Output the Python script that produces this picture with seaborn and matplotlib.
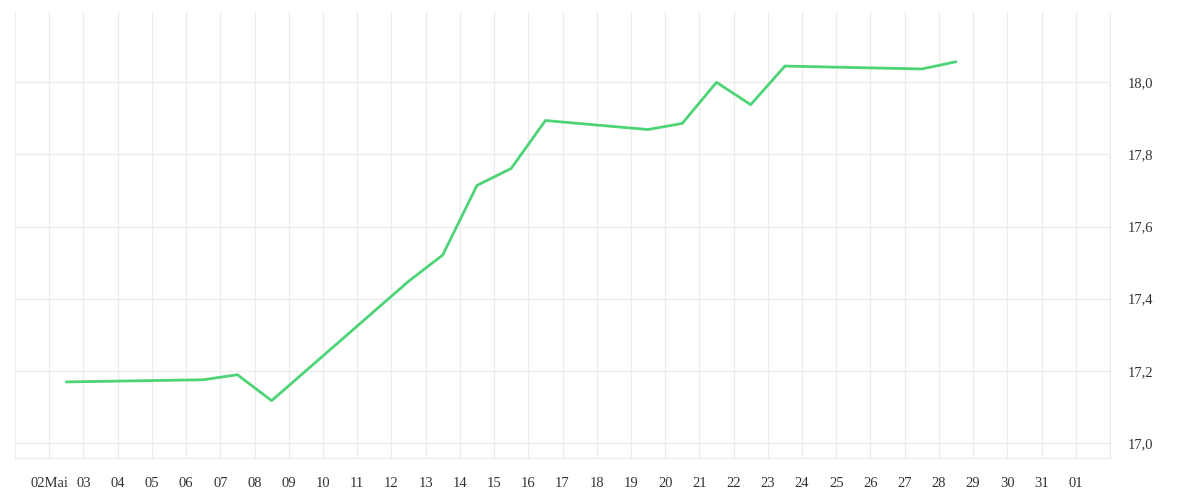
import matplotlib
matplotlib.use("Agg")
import matplotlib.pyplot as plt
import matplotlib.dates as mdates
from matplotlib.ticker import FuncFormatter, FixedLocator
import seaborn as sns
import pandas as pd
import numpy as np

# Data (timestamps at midday)
dates = ["2024-05-02 12:00", "2024-05-06 12:00", "2024-05-07 12:00", "2024-05-08 12:00",
         "2024-05-12 12:00", "2024-05-13 12:00", "2024-05-14 12:00", "2024-05-15 12:00",
         "2024-05-16 12:00", "2024-05-19 12:00", "2024-05-20 12:00", "2024-05-21 12:00",
         "2024-05-22 12:00", "2024-05-23 12:00", "2024-05-27 12:00", "2024-05-28 12:00"]
values = [17.169, 17.175, 17.189, 17.117,
          17.448, 17.521, 17.714, 17.761,
          17.894, 17.869, 17.886, 18.000,
          17.938, 18.045, 18.037, 18.057]
y_ticks = [17.0, 17.2, 17.4, 17.6, 17.8, 18.0]

df = pd.DataFrame({"date": pd.to_datetime(dates), "value": values})

sns.set_style("white")
plt.rcParams["font.family"] = ["Liberation Serif", "DejaVu Serif"]

fig = plt.figure(figsize=(12, 5), dpi=100)
ax = fig.add_axes([15/1200, 1 - 458/500, (1110 - 15)/1200, (458 - 12)/500])

sns.lineplot(data=df, x="date", y="value", ax=ax, color="#4dd476", linewidth=2.0)

grid_c = "#ececec"
ax.set_xlim(pd.Timestamp("2024-05-01"), pd.Timestamp("2024-06-02"))
ax.set_ylim(16.958, 18.195)

ax.xaxis.set_major_locator(mdates.DayLocator())
def xfmt(x, pos):
    d = mdates.num2date(x)
    if d.month == 5 and d.day == 1:
        return ""
    if d.month == 6 and d.day == 2:
        return ""
    if d.month == 5 and d.day == 2:
        return "02Mai"
    return d.strftime("%d")
ax.xaxis.set_major_formatter(FuncFormatter(xfmt))

ax.yaxis.set_major_locator(FixedLocator(y_ticks))
ax.yaxis.set_major_formatter(FuncFormatter(lambda v, p: f"{v:.1f}".replace(".", ",")))
ax.yaxis.tick_right()

ax.grid(True, color=grid_c, linewidth=1.0)
ax.set_axisbelow(True)
for s in ["top", "left"]:
    ax.spines[s].set_visible(False)
ax.spines["right"].set_color(grid_c)
ax.spines["bottom"].set_color(grid_c)

ax.tick_params(axis="x", length=7, width=1.0, color=grid_c, labelsize=10.5,
               labelcolor="#333333", pad=7)
ax.tick_params(axis="y", length=0, labelsize=10.5, labelcolor="#333333", pad=13)
ax.set_xlabel("")
ax.set_ylabel("")

fig.savefig("out.png", dpi=100, facecolor="white")
